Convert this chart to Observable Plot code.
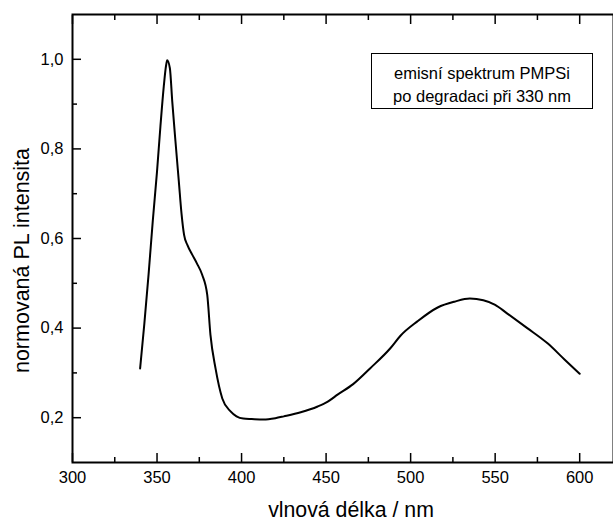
<!DOCTYPE html>
<html><head><meta charset="utf-8">
<script src="https://cdn.jsdelivr.net/npm/d3@7"></script>
<script src="https://cdn.jsdelivr.net/npm/@observablehq/plot@0.6"></script>
<style>
body{margin:0;background:#fff;}
#chart{width:613px;height:524px;}
</style></head><body><div id="chart"></div>
<script>
const wavelength = [340, 342.5, 345, 347.5, 350, 352, 354, 355.3, 356, 357.6, 359, 360.9, 362.9, 364.5, 366, 368, 370.8, 373.5, 376.7, 379.7, 381.6, 384.6, 388.6, 393.5, 397, 401, 406, 413, 420, 425, 435, 445, 451, 457, 466, 476, 488, 494, 504, 516, 526, 535, 543, 550, 557, 569, 581, 591, 600];
const intensity = [0.31, 0.41, 0.52, 0.64, 0.75, 0.85, 0.94, 0.985, 0.998, 0.98, 0.906, 0.817, 0.727, 0.655, 0.608, 0.585, 0.564, 0.545, 0.519, 0.474, 0.385, 0.310, 0.243, 0.214, 0.203, 0.198, 0.197, 0.196, 0.199, 0.203, 0.212, 0.225, 0.236, 0.252, 0.275, 0.310, 0.355, 0.383, 0.415, 0.446, 0.459, 0.466, 0.462, 0.452, 0.433, 0.400, 0.366, 0.330, 0.298];
const xMajorTicks = [300, 350, 400, 450, 500, 550, 600];
const xMinorTicks = [325, 375, 425, 475, 525, 575];
const yMajorTicks = [0.2, 0.4, 0.6, 0.8, 1.0];
const yMinorTicks = [0.3, 0.5, 0.7, 0.9];
const legendLines = ["emisní spektrum PMPSi", "po degradaci při 330 nm"];
const xLabel = "vlnová délka / nm";
const yLabel = "normovaná PL intensita";

const data = wavelength.map((w, i) => ({w, v: intensity[i]}));
const fmtY = d => d3.format(".1f")(d).replace(".", ",");
const font = "'Liberation Sans', Arial, sans-serif";
const none = () => "";

const plot = Plot.plot({
  width: 613, height: 524,
  marginLeft: 72, marginRight: 0, marginTop: 14, marginBottom: 62,
  style: {fontFamily: font, fontSize: "16.5px", color: "#000", background: "#fff"},
  x: {domain: [300, 620]},
  y: {domain: [0.1, 1.1]},
  marks: [
    // tick labels
    Plot.axisX(xMajorTicks, {anchor: "bottom", tickSize: 0, tickPadding: 9, tickFormat: d => String(d), label: null, fontSize: 16.5}),
    Plot.axisY(yMajorTicks, {anchor: "left", tickSize: 0, tickPadding: 9, tickFormat: fmtY, label: null, fontSize: 16.5}),
    // inward ticks
    Plot.axisX(xMajorTicks, {anchor: "bottom", tickSize: -9, tickFormat: none, label: null, strokeWidth: 1.5}),
    Plot.axisX(xMinorTicks, {anchor: "bottom", tickSize: -5, tickFormat: none, label: null, strokeWidth: 1.5}),
    Plot.axisX(xMajorTicks, {anchor: "top", tickSize: -9, tickFormat: none, label: null, strokeWidth: 1.5}),
    Plot.axisX(xMinorTicks, {anchor: "top", tickSize: -5, tickFormat: none, label: null, strokeWidth: 1.5}),
    Plot.axisY(yMajorTicks, {anchor: "left", tickSize: -9, tickFormat: none, label: null, strokeWidth: 1.5}),
    Plot.axisY(yMinorTicks, {anchor: "left", tickSize: -5, tickFormat: none, label: null, strokeWidth: 1.5}),
    // axis titles
    Plot.text([xLabel], {frameAnchor: "bottom", dx: 8, dy: 48, text: d => d, fontSize: 21.3, lineAnchor: "middle", textAnchor: "middle"}),
    Plot.text([yLabel], {frameAnchor: "left", dx: -50, dy: 22, text: d => d, fontSize: 21.5, rotate: -90, lineAnchor: "middle", textAnchor: "middle"}),
    Plot.frame({stroke: "#000", strokeWidth: 2}),
    Plot.line(data, {x: "w", y: "v", stroke: "#000", strokeWidth: 2, curve: "monotone-x"})
  ]
});

// legend box (annotation)
const svg = d3.select(plot);
const g = svg.append("g").attr("font-family", font).attr("font-size", 16.5);
g.append("rect").attr("x", 371.5).attr("y", 53.5).attr("width", 221).attr("height", 55)
  .attr("fill", "#fff").attr("stroke", "#000").attr("stroke-width", 1);
legendLines.forEach((t, i) => {
  g.append("text").attr("x", 482).attr("y", 73 + i * 23).attr("dy", "0.35em")
    .attr("text-anchor", "middle").attr("fill", "#000").text(t);
});

document.getElementById("chart").append(plot);
</script>
</body></html>
